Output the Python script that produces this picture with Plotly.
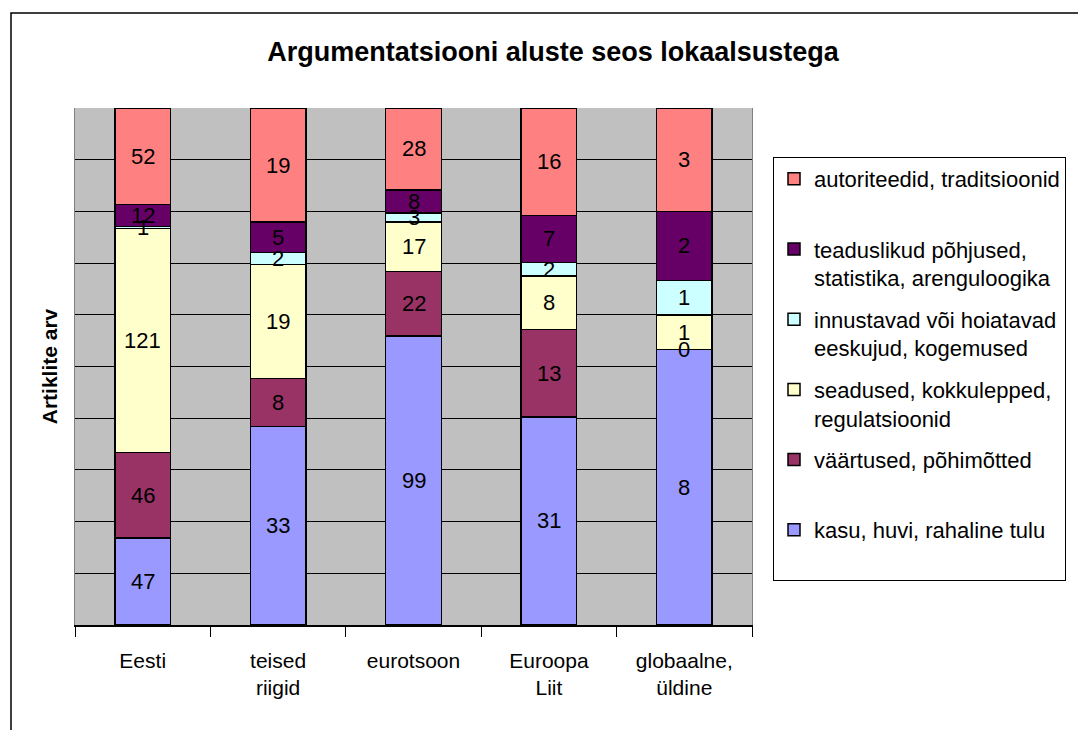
import plotly.graph_objects as go
import numpy as np

categories = ["Eesti", "teised<br>riigid", "eurotsoon", "Euroopa<br>Liit", "globaalne,<br>üldine"]

series_names = [
    "kasu, huvi, rahaline tulu<br> ",
    "väärtused, põhimõtted<br> ",
    "seadused, kokkulepped,<br>regulatsioonid",
    "innustavad või hoiatavad<br>eeskujud, kogemused",
    "teaduslikud põhjused,<br>statistika, arenguloogika",
    "autoriteedid, traditsioonid<br> ",
]
kasu = [47, 33, 99, 31, 8]
vaartused = [46, 8, 22, 13, 0]
seadused = [121, 19, 17, 8, 1]
innustavad = [1, 2, 3, 2, 1]
teaduslikud = [12, 5, 8, 7, 2]
autoriteedid = [52, 19, 28, 16, 3]

series_values = [kasu, vaartused, seadused, innustavad, teaduslikud, autoriteedid]
colors = ["#9999FF", "#993366", "#FFFFCC", "#CCFFFF", "#660066", "#FF8080"]

FONT = "Liberation Sans, Arial, sans-serif"

fig = go.Figure()
n = len(series_names)
for i, (name, vals, col) in enumerate(zip(series_names, series_values, colors)):
    fig.add_trace(go.Bar(
        x=categories, y=vals, name=name, legendgroup=str(i),
        legendrank=(n - i) * 10,
        marker=dict(color=col, line=dict(color="black", width=1.5)),
        hoverinfo="y+name",
    ))

# value labels at segment midpoints (percent scale)
arr = np.array(series_values, dtype=float)
totals = arr.sum(axis=0)
cum = np.cumsum(arr, axis=0) - arr
annotations = []
for s in range(arr.shape[0]):
    for c in range(arr.shape[1]):
        ymid = (cum[s, c] + arr[s, c] / 2) / totals[c] * 100
        annotations.append(dict(
            x=categories[c], y=ymid, xref="x", yref="y",
            text=str(int(arr[s, c])), showarrow=False,
            font=dict(family=FONT, size=22, color="black"),
        ))

# page has an 8px body margin, so layout coords are shifted by 8
OFF = 8
W, H = 1086, 730
L, T = 75 - OFF, 108 - OFF
pw, ph = 677, 517
R = W - L - pw
B = H - T - ph
def px(xp):
    return (xp - OFF - L) / pw
def py(yp):
    return (T + ph - (yp - OFF)) / ph

shapes = [dict(type="rect", xref="paper", yref="paper",
               x0=px(11), x1=px(1120), y0=py(13), y1=py(760),
               line=dict(color="black", width=1.5), fillcolor="rgba(0,0,0,0)", layer="above")]

fig.update_layout(
    width=W, height=H,
    margin=dict(l=L, r=R, t=T, b=B),
    barmode="stack", barnorm="percent", bargap=0.59,
    paper_bgcolor="white", plot_bgcolor="#C0C0C0",
    font=dict(family=FONT, size=21, color="black"),
    title=dict(text="<b>Argumentatsiooni aluste seos lokaalsustega</b>",
               x=(553 - OFF) / W, xanchor="center", y=1 - (52 - OFF) / H, yanchor="middle",
               font=dict(family=FONT, size=27, color="black")),
    xaxis=dict(showgrid=False, ticks="outside", tickson="boundaries", ticklen=10,
               tickcolor="black", showline=True, linecolor="black", linewidth=1.5,
               ticklabelstandoff=16,
               tickfont=dict(family=FONT, size=21, color="black")),
    yaxis=dict(range=[0, 100], dtick=10, showgrid=True, gridcolor="black", gridwidth=1,
               showticklabels=False, ticks="", showline=True, linecolor="#808080",
               mirror=True, zeroline=False,
               title=dict(text="<b>Artiklite arv</b>", standoff=10,
                          font=dict(family=FONT, size=21, color="black"))),
    legend=dict(x=px(773), y=py(157), xanchor="left", yanchor="top",
                traceorder="grouped", valign="top",
                bgcolor="white", bordercolor="black", borderwidth=1,
                font=dict(family=FONT, size=22, color="black"),
                tracegroupgap=10),
    annotations=annotations,
    shapes=shapes,
    showlegend=True,
)

fig.write_html("out.html")
